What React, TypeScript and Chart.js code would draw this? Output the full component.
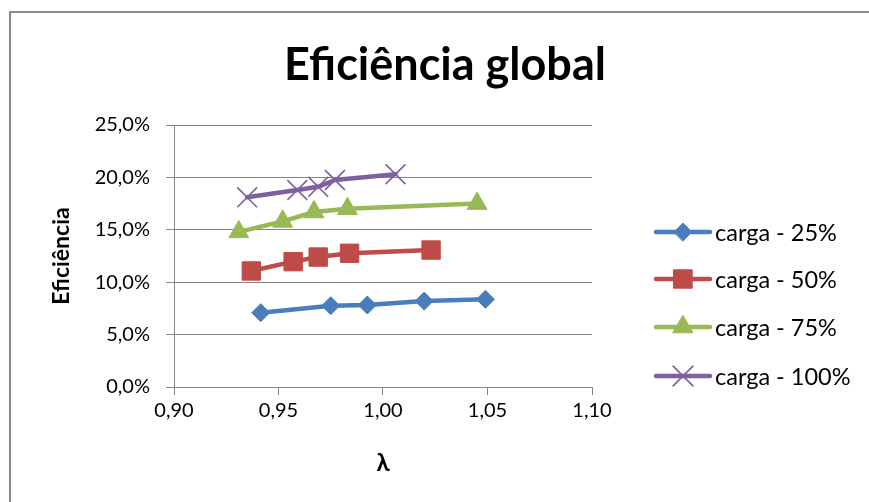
import React, { useEffect, useRef } from "react";
import { Chart, registerables } from "chart.js";
import { drawPoint } from "chart.js/helpers";

Chart.register(...registerables);

const FONT = "Lato, 'Open Sans', sans-serif";

const seriesLabels = ["carga - 25%", "carga - 50%", "carga - 75%", "carga - 100%"];

const lambda25 = [0.9415, 0.975, 0.9925, 1.0197, 1.049];
const eff25 = [0.0709, 0.0776, 0.0782, 0.082, 0.0837];

const lambda50 = [0.937, 0.957, 0.969, 0.984, 1.023];
const eff50 = [0.1107, 0.1196, 0.124, 0.1276, 0.1307];

const lambda75 = [0.931, 0.952, 0.967, 0.983, 1.045];
const eff75 = [0.148, 0.158, 0.167, 0.17, 0.175];

const lambda100 = [0.935, 0.959, 0.969, 0.977, 1.006];
const eff100 = [0.181, 0.188, 0.191, 0.1975, 0.203];

const xMin = 0.9;
const xMax = 1.1;
const xStep = 0.05;
const yMin = 0;
const yMax = 0.25;
const yStep = 0.05;

const seriesColors = ["#4A7EBB", "#BE4B48", "#98B954", "#7D60A0"];
const seriesPointStyles = ["rectRot", "rect", "triangle", "crossRot"];
const seriesPointRadius = [9, 13, 11.5, 14];
const seriesPointBorder = [1, 1, 1, 1.6];

const pairs = (xs: number[], ys: number[]) => xs.map((x, i) => ({ x, y: ys[i] }));

const frameAndLegend = {
  id: "frameAndLegend",
  beforeDraw(chart: any) {
    const ctx = chart.ctx;
    ctx.save();
    ctx.fillStyle = "#ffffff";
    ctx.fillRect(0, 0, chart.width, chart.height);
    ctx.strokeStyle = "#8a8a8a";
    ctx.lineWidth = 2;
    ctx.strokeRect(10, 12, chart.width + 20, chart.height + 20);
    ctx.restore();
  },
  afterDraw(chart: any) {
    const ctx = chart.ctx;
    const area = chart.chartArea;
    const lineStart = area.right + 64;
    const lineEnd = area.right + 118;
    const textX = area.right + 123;
    const rowY = [232, 279, 327, 376];
    chart.data.datasets.forEach((ds: any, i: number) => {
      const y = rowY[i];
      ctx.save();
      ctx.strokeStyle = ds.borderColor;
      ctx.lineWidth = ds.borderWidth;
      ctx.lineCap = "round";
      ctx.beginPath();
      ctx.moveTo(lineStart, y);
      ctx.lineTo(lineEnd, y);
      ctx.stroke();
      ctx.fillStyle = ds.pointBackgroundColor;
      ctx.strokeStyle = ds.pointBorderColor;
      ctx.lineWidth = ds.pointBorderWidth;
      drawPoint(ctx, {
        pointStyle: ds.pointStyle,
        rotation: 0,
        radius: ds.pointRadius,
        borderWidth: ds.pointBorderWidth,
      }, (lineStart + lineEnd) / 2, y);
      ctx.fillStyle = "#000000";
      ctx.font = `23.5px ${FONT}`;
      ctx.textAlign = "left";
      ctx.textBaseline = "middle";
      ctx.fillText(ds.label, textX, y + 1);
      ctx.restore();
    });
  },
};

const fmtPct = (v: number) => (v * 100).toFixed(1).replace(".", ",") + "%";
const fmtDec = (v: number) => v.toFixed(2).replace(".", ",");

export default function App() {
  const canvasRef = useRef<HTMLCanvasElement | null>(null);

  useEffect(() => {
    const canvas = canvasRef.current;
    if (!canvas) return;
    const xs = [lambda25, lambda50, lambda75, lambda100];
    const ys = [eff25, eff50, eff75, eff100];
    const chart = new Chart(canvas, {
      type: "line",
      data: {
        datasets: seriesLabels.map((label, i) => ({
          label,
          data: pairs(xs[i], ys[i]),
          borderColor: seriesColors[i],
          backgroundColor: seriesColors[i],
          borderWidth: 4.5,
          borderJoinStyle: "round",
          borderCapStyle: "round",
          pointStyle: seriesPointStyles[i],
          pointRadius: seriesPointRadius[i],
          pointHoverRadius: seriesPointRadius[i],
          pointBackgroundColor: seriesColors[i],
          pointBorderColor: seriesColors[i],
          pointBorderWidth: seriesPointBorder[i],
          tension: 0,
          fill: false,
          yAxisID: "y",
        })),
      },
      plugins: [frameAndLegend],
      options: {
        responsive: false,
        animation: false,
        events: [],
        layout: { padding: { left: 21, right: 0, top: 0, bottom: 0 } },
        plugins: {
          legend: { display: false },
          tooltip: { enabled: false },
          title: {
            display: true,
            text: "Eficiência global",
            color: "#000000",
            font: { family: FONT, size: 45, weight: "bold" },
            padding: { top: 38, bottom: 33 },
          },
        },
        scales: {
          x: {
            type: "linear",
            min: xMin,
            max: xMax,
            ticks: {
              stepSize: xStep,
              callback: (v: any) => fmtDec(Number(v)),
              color: "#000000",
              font: { family: FONT, size: 20 },
              padding: 4,
              maxRotation: 0,
            },
            grid: {
              drawOnChartArea: false,
              drawTicks: true,
              tickLength: 8,
              color: "#868686",
              lineWidth: 1,
            },
            border: { color: "#868686", width: 1 },
            title: {
              display: true,
              text: "λ",
              color: "#000000",
              font: { family: FONT, size: 24, weight: "bold" },
              padding: { top: 0, bottom: 24.6 },
            },
            afterFit: (scale: any) => {
              scale.height = 115;
            },
          },
          y: {
            position: "left",
            min: yMin,
            max: yMax,
            ticks: {
              stepSize: yStep,
              callback: (v: any) => fmtPct(Number(v)),
              color: "#000000",
              font: { family: FONT, size: 20 },
              padding: 16,
            },
            grid: {
              drawTicks: true,
              tickLength: 8,
              color: "#868686",
              lineWidth: 1,
            },
            border: { color: "#868686", width: 1 },
            title: {
              display: true,
              text: "Eficiência",
              color: "#000000",
              font: { family: FONT, size: 23, weight: "bold" },
              padding: { top: 27.2, bottom: 0 },
            },
            afterFit: (scale: any) => {
              scale.width = 153;
            },
          },
          legendSpace: {
            type: "linear",
            position: "right",
            display: true,
            ticks: { display: false },
            grid: { display: false, drawOnChartArea: false, drawTicks: false },
            border: { display: false },
            afterFit: (scale: any) => {
              scale.width = 277;
            },
          },
        },
      },
    } as any);
    return () => chart.destroy();
  }, []);

  return (
    <div style={{ position: "fixed", left: 0, top: 0, width: 869, height: 502, background: "#ffffff" }}>
      <canvas ref={canvasRef} width={869} height={502} style={{ display: "block", width: 869, height: 502 }} />
    </div>
  );
}
